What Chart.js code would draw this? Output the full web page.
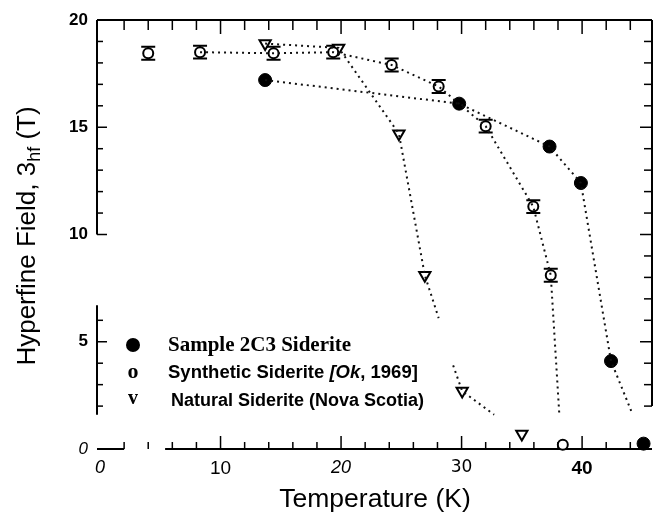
<!DOCTYPE html>
<html>
<head>
<meta charset="utf-8">
<script src="https://cdn.jsdelivr.net/npm/chart.js@4/dist/chart.umd.min.js"></script>
<style>
  html, body { margin: 0; padding: 0; background: #fff; }
  canvas { display: block; }
</style>
</head>
<body>
<canvas id="chart" width="654" height="523"></canvas>
<script>
// values: temperature (K) vs hyperfine field (T)
const sampleT = [13.7, 29.8, 37.3, 39.9, 42.4, 45.1];
const sampleB = [17.2, 16.1, 14.1, 12.4, 4.1, 0.25];

const synthT = [4.0, 8.3, 14.4, 19.35, 24.2, 28.1, 32.0, 35.95, 37.4, 38.4];
const synthB = [18.45, 18.5, 18.45, 18.5, 17.9, 16.9, 15.05, 11.3, 8.1, 0.2];
const synthErr = [0.3, 0.3, 0.3, 0.3, 0.3, 0.3, 0.3, 0.3, 0.3, 0];

const naturalT = [13.7, 19.8, 24.8, 26.95, 30.05, 35.0];
const naturalB = [18.9, 18.7, 14.7, 8.1, 2.7, 0.7];

// dotted guide curves (they stop short of the last points in the figure)
const sampleCurveT = [13.7, 29.8, 37.3, 39.9, 42.4, 44.2];
const sampleCurveB = [17.2, 16.1, 14.1, 12.4, 4.1, 1.6];
const synthCurveT = [8.3, 14.4, 19.35, 24.2, 28.1, 32.0, 35.95, 37.4, 38.1];
const synthCurveB = [18.5, 18.45, 18.5, 17.9, 16.9, 15.05, 11.3, 8.1, 1.7];
const naturalCurveT1 = [13.7, 19.8, 24.8, 26.95, 28.1];
const naturalCurveB1 = [18.9, 18.7, 14.7, 8.1, 6.1];
const naturalCurveT2 = [29.3, 30.05, 32.7];
const naturalCurveB2 = [3.9, 2.7, 1.6];

const xTicks = [0, 10, 20, 30, 40];
const yTicks = [0, 5, 10, 15, 20];

// the scanned frame has broken axis lines
const bottomRuns = [[-0.25, 2], [5.4, 45.8]];
const leftRuns = [[10, 20], [1.6, 6.7]];
const rightRuns = [[2, 20]];

const pts = (xs, ys) => xs.map((x, i) => ({ x: x, y: ys[i] }));

const curve = (xs, ys) => ({
    data: pts(xs, ys),
    showLine: true,
    pointRadius: 0,
    borderColor: '#111',
    borderWidth: 2,
    borderDash: [2, 4],
    fill: false
});

const xFonts = {
    0: { family: 'Liberation Sans', size: 18, style: 'italic' },
    10: { family: 'Liberation Sans', size: 19 },
    20: { family: 'Liberation Sans', size: 18, style: 'italic' },
    30: { family: 'DejaVu Sans', size: 17 },
    40: { family: 'Liberation Sans', size: 19, weight: 'bold' }
};
const plainX = { family: 'Liberation Sans', size: 19 };

const frame = {
    id: 'frame',
    beforeDatasetsDraw(chart) {
        const { ctx, chartArea: a, scales: { x, y } } = chart;
        const seg = (x1, y1, x2, y2) => { ctx.beginPath(); ctx.moveTo(x1, y1); ctx.lineTo(x2, y2); ctx.stroke(); };
        const inRuns = (runs, v) => runs.some(r => v >= r[0] && v <= r[1]);
        ctx.save();
        ctx.strokeStyle = '#000';
        ctx.lineWidth = 2;
        seg(a.left, a.top, a.right, a.top);
        bottomRuns.forEach(r => seg(x.getPixelForValue(r[0]), a.bottom, x.getPixelForValue(r[1]), a.bottom));
        leftRuns.forEach(r => seg(a.left, y.getPixelForValue(r[0]), a.left, y.getPixelForValue(r[1])));
        rightRuns.forEach(r => seg(a.right, y.getPixelForValue(r[0]), a.right, y.getPixelForValue(r[1])));

        ctx.lineWidth = 1.5;
        for (let v = 2; v <= 44; v += 2) {
            const px = x.getPixelForValue(v);
            const major = v % 10 === 0;
            seg(px, a.bottom, px, a.bottom - (major ? 13 : 7));
            seg(px, a.top, px, a.top + (major ? 14 : 10));
        }
        for (let v = 1; v < 20; v++) {
            const py = y.getPixelForValue(v);
            const major = v % 5 === 0;
            if (inRuns(leftRuns, v)) seg(a.left, py, a.left + (major ? 10 : 6), py);
            if (inRuns(rightRuns, v)) seg(a.right, py, a.right - (major ? 12 : 8), py);
        }
        ctx.restore();
    }
};

const errorBars = {
    id: 'errorBars',
    beforeDatasetsDraw(chart) {
        const { ctx, scales: { x, y } } = chart;
        ctx.save();
        ctx.strokeStyle = '#000';
        ctx.lineWidth = 2;
        synthT.forEach((t, i) => {
            if (!synthErr[i]) return;
            const px = x.getPixelForValue(t);
            const top = y.getPixelForValue(synthB[i] + synthErr[i]);
            const bot = y.getPixelForValue(synthB[i] - synthErr[i]);
            ctx.beginPath();
            ctx.moveTo(px, top); ctx.lineTo(px, bot);
            ctx.moveTo(px - 7, top); ctx.lineTo(px + 7, top);
            ctx.moveTo(px - 7, bot); ctx.lineTo(px + 7, bot);
            ctx.stroke();
        });
        ctx.restore();
    }
};

const labels = {
    id: 'labels',
    afterDraw(chart) {
        const ctx = chart.ctx;
        ctx.save();
        ctx.fillStyle = '#000';
        ctx.textBaseline = 'middle';

        // x title
        ctx.font = '26.5px "Liberation Sans"';
        ctx.textAlign = 'center';
        ctx.fillText('Temperature (K)', 375, 500);

        // y title, rotated, with subscript
        const parts = [
            { t: 'Hyperfine Field, 3', f: '26px "Liberation Sans"', dy: 0 },
            { t: 'hf', f: '18px "Liberation Sans"', dy: 7 },
            { t: ' (T)', f: '26px "Liberation Sans"', dy: 0 }
        ];
        let total = 0;
        parts.forEach(p => { ctx.font = p.f; p.w = ctx.measureText(p.t).width; total += p.w; });
        ctx.translate(28, 236);
        ctx.rotate(-Math.PI / 2);
        ctx.textAlign = 'left';
        let cx = -total / 2;
        parts.forEach(p => { ctx.font = p.f; ctx.fillText(p.t, cx, p.dy); cx += p.w; });
        ctx.setTransform(1, 0, 0, 1, 0, 0);

        // in-plot legend
        ctx.beginPath();
        ctx.arc(133, 345, 7, 0, Math.PI * 2);
        ctx.fill();
        ctx.textAlign = 'center';
        ctx.font = 'bold 22px "Liberation Serif"';
        ctx.fillText('o', 133, 372);
        ctx.font = 'bold 20px "Liberation Serif"';
        ctx.fillText('v', 133, 399);

        ctx.textAlign = 'left';
        ctx.font = 'bold 21px "Liberation Serif"';
        ctx.fillText('Sample 2C3 Siderite', 168, 346);

        const runs = [
            { t: 'Synthetic Siderite ', f: 'bold 18.5px "Liberation Sans"' },
            { t: '[Ok', f: 'italic bold 18.5px "Liberation Sans"' },
            { t: ', 1969]', f: 'bold 18.5px "Liberation Sans"' }
        ];
        let lx = 168;
        runs.forEach(r => { ctx.font = r.f; ctx.fillText(r.t, lx, 373); lx += ctx.measureText(r.t).width; });

        ctx.font = 'bold 18px "Liberation Sans"';
        ctx.fillText('Natural Siderite (Nova Scotia)', 171, 401);
        ctx.restore();
    }
};

new Chart(document.getElementById('chart'), {
    type: 'scatter',
    data: {
        datasets: [
            curve(sampleCurveT, sampleCurveB),
            curve(synthCurveT, synthCurveB),
            curve(naturalCurveT1, naturalCurveB1),
            curve(naturalCurveT2, naturalCurveB2),
            {
                label: 'Sample 2C3 Siderite',
                data: pts(sampleT, sampleB),
                pointStyle: 'circle',
                pointRadius: 6.5,
                backgroundColor: '#000',
                borderColor: '#000',
                clip: false
            },
            {
                label: 'Synthetic Siderite [Ok, 1969]',
                data: pts(synthT, synthB),
                pointStyle: 'circle',
                pointRadius: 5,
                borderWidth: 2,
                backgroundColor: '#fff',
                borderColor: '#000',
                clip: false
            },
            {
                label: 'Natural Siderite (Nova Scotia)',
                data: pts(naturalT, naturalB),
                pointStyle: 'triangle',
                pointRotation: 180,
                pointRadius: 6.5,
                borderWidth: 2,
                backgroundColor: '#fff',
                borderColor: '#000',
                clip: false
            }
        ]
    },
    options: {
        responsive: false,
        animation: false,
        devicePixelRatio: 1,
        layout: { autoPadding: false, padding: { top: 20, right: 2, left: 0, bottom: 0 } },
        plugins: { legend: { display: false }, tooltip: { enabled: false } },
        scales: {
            x: {
                type: 'linear',
                min: -0.25,
                max: 45.8,
                grid: { display: false, drawTicks: false, tickLength: 0 },
                border: { display: false },
                afterBuildTicks: s => { s.ticks = xTicks.map(v => ({ value: v })); },
                afterFit: s => { s.height = 74; s.paddingLeft = 0; s.paddingRight = 0; },
                ticks: {
                    color: '#000',
                    padding: 8,
                    maxRotation: 0,
                    autoSkip: false,
                    font: c => (c.tick && xFonts[c.tick.value]) || plainX
                }
            },
            y: {
                min: 0,
                max: 20,
                grid: { display: false, drawTicks: false, tickLength: 0 },
                border: { display: false },
                afterBuildTicks: s => { s.ticks = yTicks.map(v => ({ value: v })); },
                afterFit: s => { s.width = 97; s.paddingTop = 0; s.paddingBottom = 0; },
                ticks: {
                    color: '#000',
                    padding: 9,
                    autoSkip: false,
                    font: c => (c.tick && c.tick.value === 0)
                        ? { family: 'Liberation Sans', size: 17, style: 'italic' }
                        : { family: 'Liberation Sans', size: 17, weight: 'bold' }
                }
            }
        }
    },
    plugins: [frame, errorBars, labels]
});
</script>
</body>
</html>
